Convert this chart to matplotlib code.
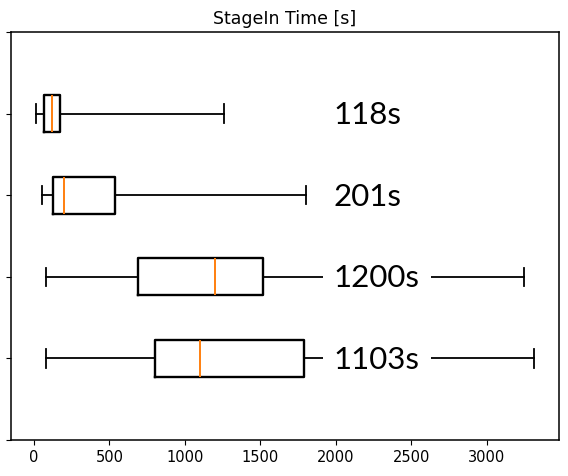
import matplotlib
matplotlib.use("Agg")
import matplotlib.pyplot as plt

# Data (top to bottom as displayed)
labels = ["118s", "201s", "1200s", "1103s"]
whislo = [13, 53, 80, 80]
q1 = [66, 124, 692, 802]
med = [118, 201, 1200, 1103]
q3 = [172, 537, 1516, 1788]
whishi = [1260, 1804, 3245, 3313]
positions = [4, 3, 2, 1]
text_x = 1985

stats = []
for lo, a, m, b, hi, lab in zip(whislo, q1, med, q3, whishi, labels):
    stats.append(dict(whislo=lo, q1=a, med=m, q3=b, whishi=hi, fliers=[], label=lab))

fig = plt.figure(figsize=(5.68, 4.76), dpi=100)
ax = fig.add_axes([0.0194, 0.0756, 0.9648, 0.8572])

ax.bxp(stats, positions=positions, widths=0.45, orientation='horizontal',
       showfliers=False, manage_ticks=False,
       boxprops=dict(color='black', linewidth=1.7),
       whiskerprops=dict(color='black', linewidth=1.3),
       capprops=dict(color='black', linewidth=1.3),
       medianprops=dict(color='#ff7f0e', linewidth=1.4))

ax.set_ylim(0, 5)
ax.set_yticks(range(6))
ax.set_yticklabels([])
ax.set_xticks([0, 500, 1000, 1500, 2000, 2500, 3000])
ax.tick_params(axis='x', labelsize=10.5)
for s in ax.spines.values():
    s.set_linewidth(1.1)
ax.set_title("StageIn Time [s]", fontsize=12.5)

for lab, p in zip(labels, positions):
    ax.text(text_x, p - 0.02, lab, fontsize=22.5, family=['Lato', 'DejaVu Sans'],
            ha='left', va='center',
            bbox=dict(facecolor='white', edgecolor='none', boxstyle='square,pad=0.35'))

fig.savefig("out.png", dpi=100)
